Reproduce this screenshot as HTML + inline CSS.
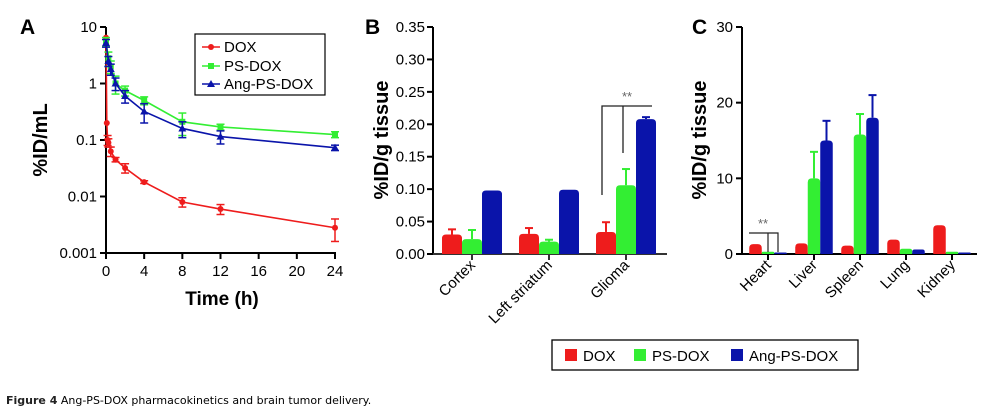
<!DOCTYPE html>
<html><head><meta charset="utf-8"><style>
body{margin:0;background:#fff}
svg, svg text{font-family:"Liberation Sans",Arial,sans-serif}
</style></head><body>
<svg id="fig" width="982" height="411" viewBox="0 0 982 411" xmlns="http://www.w3.org/2000/svg" font-family="Liberation Sans, Arial, sans-serif">
<text x="20" y="34" font-size="21" font-weight="bold">A</text>
<text x="365" y="34" font-size="21" font-weight="bold">B</text>
<text x="692" y="34" font-size="21" font-weight="bold">C</text>
<g id="A"></g>
<g id="B"></g>
<g id="C"></g>
<g>
<rect x="552" y="340" width="306" height="30" fill="none" stroke="#000" stroke-width="1.3"/>
<rect x="565" y="349" width="12" height="12" fill="#ee1c1c"/><text x="583" y="361" font-size="15">DOX</text>
<rect x="634" y="349" width="12" height="12" fill="#33ee33"/><text x="652" y="361" font-size="15">PS-DOX</text>
<rect x="731" y="349" width="12" height="12" fill="#0a14aa"/><text x="749" y="361" font-size="15">Ang-PS-DOX</text>
</g>
<text x="6" y="404" font-size="11" style="font-family:'DejaVu Sans',sans-serif"><tspan font-weight="bold" fill="#222">Figure 4</tspan> Ang-PS-DOX pharmacokinetics and brain tumor delivery.</text>
</svg>
<script>
const RED="#ee1c1c",GREEN="#33ee33",BLUE="#0a14aa";
// Panel A data
const timesDOX=[0,0.083,0.167,0.25,0.5,1,2,4,8,12,24];
const valsDOX=[6.5,0.2,0.1,0.09,0.063,0.045,0.032,0.018,0.008,0.006,0.0028];
const errDOX=[0,0,0.02,0.015,0.012,0.004,0.006,0.001,0.0015,0.0012,0.0012];
const timesPS=[0,0.25,0.5,1,2,4,8,12,24];
const valsPS=[5.5,2.8,2.0,1.0,0.75,0.5,0.21,0.17,0.125];
const errPS=[1,0.8,0.5,0.35,0.15,0.08,0.09,0.02,0.015];
const timesAng=[0,0.25,0.5,1,2,4,8,12,24];
const valsAng=[5.2,2.5,1.8,1.0,0.6,0.32,0.16,0.115,0.073];
const errAng=[0.8,0.5,0.4,0.25,0.15,0.12,0.05,0.03,0.008];
const xTicksA=[0,4,8,12,16,20,24];
const yTicksA=[10,1,0.1,0.01,0.001];
const yTickLabelsA=["10","1","0.1","0.01","0.001"];
// Panel B data
const catsB=["Cortex","Left striatum","Glioma"];
const bDOX=[0.030,0.031,0.034], bDOXe=[0.008,0.009,0.015];
const bPS=[0.023,0.019,0.106], bPSe=[0.014,0.003,0.025];
const bAng=[0.098,0.099,0.208], bAnge=[0.001,0.001,0.003];
const yTicksB=[0,0.05,0.10,0.15,0.20,0.25,0.30,0.35];
const yTickLabelsB=["0.00","0.05","0.10","0.15","0.20","0.25","0.30","0.35"];
// Panel C data
const catsC=["Heart","Liver","Spleen","Lung","Kidney"];
const cDOX=[1.3,1.4,1.1,1.9,3.8], cDOXe=[0,0,0,0,0];
const cPS=[0.3,10.0,15.8,0.7,0.3], cPSe=[0,3.5,2.7,0,0];
const cAng=[0.2,15.0,18.0,0.6,0.2], cAnge=[0,2.6,3.0,0,0];
const yTicksC=[0,10,20,30];

const NS="http://www.w3.org/2000/svg";
function mk(p,t,a){const e=document.createElementNS(NS,t);for(const k in a)e.setAttribute(k,a[k]);p.appendChild(e);return e;}
function txt(p,x,y,s,a){const e=mk(p,"text",Object.assign({x:x,y:y,"font-family":"Liberation Sans, Arial, sans-serif"},a));e.textContent=s;return e;}

// ---- Panel A
const gA=document.getElementById("A");
const xA=t=>106+t*(229/24);
const yA=v=>253-(Math.log10(v)+3)*56.5;
mk(gA,"line",{x1:106,y1:27,x2:106,y2:253,stroke:"#000","stroke-width":2});
mk(gA,"line",{x1:106,y1:253,x2:336,y2:253,stroke:"#000","stroke-width":2});
yTicksA.forEach((v,i)=>{const y=yA(v);
 const l=mk(gA,"line",{x1:100,y1:y,x2:106,y2:y,stroke:"#000","stroke-width":2});
 
 const t=txt(gA,97,y+5,yTickLabelsA[i],{"font-size":15,"text-anchor":"end"});
 
});
xTicksA.forEach(v=>{const x=xA(v);
 mk(gA,"line",{x1:x,y1:253,x2:x,y2:259,stroke:"#000","stroke-width":2});
 const t=txt(gA,x,276,String(v),{"font-size":15,"text-anchor":"middle"});
 
});
const xtA=txt(gA,222,305,"Time (h)",{"font-size":19,"font-weight":"bold","text-anchor":"middle"});

const ytA=txt(gA,0,0,"%ID/mL",{"font-size":20,"font-weight":"bold","text-anchor":"middle",transform:"translate(47,140) rotate(-90)"});

function series(ts,vs,es,col,shape,name){
 const g=mk(gA,"g",{});
 
 
 mk(g,"polyline",{points:ts.map((t,i)=>xA(t)+","+yA(vs[i])).join(" "),fill:"none",stroke:col,"stroke-width":1.6});
 ts.forEach((t,i)=>{const x=xA(t),y=yA(vs[i]);
  if(es[i]>0){const y1=yA(vs[i]+es[i]),y2=yA(Math.max(vs[i]-es[i],vs[i]*0.3));
   mk(g,"line",{x1:x,y1:y1,x2:x,y2:y2,stroke:col,"stroke-width":1.5});
   mk(g,"line",{x1:x-4,y1:y1,x2:x+4,y2:y1,stroke:col,"stroke-width":1.5});
   mk(g,"line",{x1:x-4,y1:y2,x2:x+4,y2:y2,stroke:col,"stroke-width":1.5});}
  let m;
  if(shape==="c")m=mk(g,"circle",{cx:x,cy:y,r:3,fill:col});
  else if(shape==="s")m=mk(g,"rect",{x:x-3,y:y-3,width:6,height:6,fill:col});
  else m=mk(g,"polygon",{points:`${x},${y-4} ${x-4},${y+3} ${x+4},${y+3}`,fill:col});
  
  
 });
}
series(timesDOX,valsDOX,errDOX,RED,"c","series-dox");
series(timesPS,valsPS,errPS,GREEN,"s","series-ps-dox");
series(timesAng,valsAng,errAng,BLUE,"t","series-ang-ps-dox");
// legend A
const lg=mk(gA,"g",{});


mk(lg,"rect",{x:195,y:34,width:130,height:61,fill:"#fff",stroke:"#000","stroke-width":1.2});
[[RED,"c","DOX",47],[GREEN,"s","PS-DOX",66],[BLUE,"t","Ang-PS-DOX",84]].forEach(([c,s,l,y])=>{
 mk(lg,"line",{x1:202,y1:y,x2:220,y2:y,stroke:c,"stroke-width":1.6});
 if(s==="c")mk(lg,"circle",{cx:211,cy:y,r:3,fill:c});
 else if(s==="s")mk(lg,"rect",{x:208,y:y-3,width:6,height:6,fill:c});
 else mk(lg,"polygon",{points:`211,${y-4} 207,${y+3} 215,${y+3}`,fill:c});
 txt(lg,224,y+5,l,{"font-size":15});
});

// ---- bar helpers
function bar(g,x,w,y0,y,col,ey,name){
 const h=y0-y;const r=Math.min(4,h/2,w/2);
 const p=mk(g,"path",{d:`M${x},${y0} V${y+r} Q${x},${y} ${x+r},${y} H${x+w-r} Q${x+w},${y} ${x+w},${y+r} V${y0} Z`,fill:col});
 
 
 if(ey!==null&&ey<y-1){const cx=x+w/2;
  mk(g,"line",{x1:cx,y1:y,x2:cx,y2:ey,stroke:col,"stroke-width":2});
  mk(g,"line",{x1:cx-4,y1:ey,x2:cx+4,y2:ey,stroke:col,"stroke-width":2});}
}
// ---- Panel B
const gB=document.getElementById("B");
const yB=v=>254-v*(227/0.35);
const cxB=i=>472+i*77;
mk(gB,"line",{x1:433,y1:27,x2:433,y2:254,stroke:"#000","stroke-width":2});
mk(gB,"line",{x1:433,y1:254,x2:667,y2:254,stroke:"#333","stroke-width":2});
yTicksB.forEach((v,i)=>{const y=yB(v);
 mk(gB,"line",{x1:427,y1:y,x2:433,y2:y,stroke:"#000","stroke-width":2});
 const t=txt(gB,425,y+5,yTickLabelsB[i],{"font-size":15,"text-anchor":"end"});
 
});
catsB.forEach((c,i)=>{const cx=cxB(i);
 bar(gB,cx-30,20,254,yB(bDOX[i]),RED,yB(bDOX[i]+bDOXe[i]),"bar-dox-"+i);
 bar(gB,cx-10,20,254,yB(bPS[i]),GREEN,yB(bPS[i]+bPSe[i]),"bar-ps-dox-"+i);
 bar(gB,cx+10,20,254,yB(bAng[i]),BLUE,yB(bAng[i]+bAnge[i]),"bar-ang-ps-dox-"+i);
 mk(gB,"line",{x1:cx,y1:254,x2:cx,y2:260,stroke:"#333","stroke-width":2});
 const t=txt(gB,0,0,c,{"font-size":15,"text-anchor":"end",transform:`translate(${cx+4},${266}) rotate(-45)`});
 
});
const ytB=txt(gB,0,0,"%ID/g tissue",{"font-size":20,"font-weight":"bold","text-anchor":"middle",transform:"translate(388,140) rotate(-90)"});

const sb=mk(gB,"g",{stroke:"#222","stroke-width":1.3,fill:"none"});


mk(sb,"polyline",{points:"602,195 602,106 652,106"});
mk(sb,"line",{x1:623,y1:106,x2:623,y2:153});
txt(gB,627,101,"**",{"font-size":13,"text-anchor":"middle",fill:"#666"});

// ---- Panel C
const gC=document.getElementById("C");
const yC=v=>254-v*(227/30);
const cxC=i=>768+i*46;
mk(gC,"line",{x1:742,y1:27,x2:742,y2:254,stroke:"#000","stroke-width":2});
mk(gC,"line",{x1:742,y1:254,x2:977,y2:254,stroke:"#000","stroke-width":2});
yTicksC.forEach(v=>{const y=yC(v);
 mk(gC,"line",{x1:736,y1:y,x2:742,y2:y,stroke:"#000","stroke-width":2});
 const t=txt(gC,733,y+5,String(v),{"font-size":15,"text-anchor":"end"});
 
});
catsC.forEach((c,i)=>{const cx=cxC(i),w=12.5;
 bar(gC,cx-w*1.5,w,254,yC(cDOX[i]),RED,cDOXe[i]?yC(cDOX[i]+cDOXe[i]):null,"bar-dox-"+c.toLowerCase());
 bar(gC,cx-w/2,w,254,yC(cPS[i]),GREEN,cPSe[i]?yC(cPS[i]+cPSe[i]):null,"bar-ps-dox-"+c.toLowerCase());
 bar(gC,cx+w/2,w,254,yC(cAng[i]),BLUE,cAnge[i]?yC(cAng[i]+cAnge[i]):null,"bar-ang-ps-dox-"+c.toLowerCase());
 mk(gC,"line",{x1:cx,y1:254,x2:cx,y2:260,stroke:"#000","stroke-width":2});
 const t=txt(gC,0,0,c,{"font-size":15,"text-anchor":"end",transform:`translate(${cx+4},${266}) rotate(-45)`});
 
});
const ytC=txt(gC,0,0,"%ID/g tissue",{"font-size":20,"font-weight":"bold","text-anchor":"middle",transform:"translate(706,140) rotate(-90)"});

const sc=mk(gC,"g",{stroke:"#222","stroke-width":1.2,fill:"none"});


mk(sc,"polyline",{points:"749,233 778,233 778,252"});
mk(sc,"line",{x1:768,y1:233,x2:768,y2:252});
txt(gC,763,228,"**",{"font-size":13,"text-anchor":"middle",fill:"#666"});
</script>
</body></html>
